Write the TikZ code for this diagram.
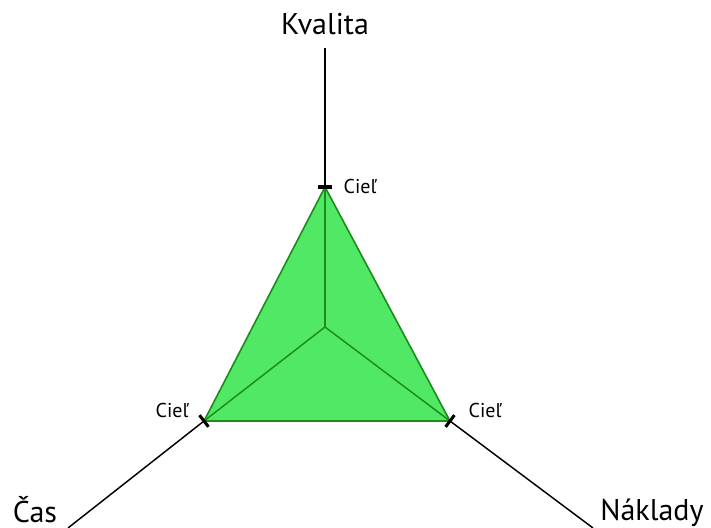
\documentclass[tikz,border=0pt]{standalone}
\usepackage{fontspec}
\setmainfont{PT Sans}
\usetikzlibrary{positioning,calc}
\definecolor{goalgreen}{HTML}{50E864}
\definecolor{goaledge}{HTML}{1C8C1C}
\tikzset{
  axis/.style     = {line width=1.1pt, black},
  goal/.style     = {draw=goaledge, line width=1.2pt, fill=goalgreen, line join=round},
  spoke/.style    = {draw=goaledge, line width=1.1pt},
  goaltick/.style = {line width=2.3pt, black},
  axlbl/.style    = {font=\fontsize{22.5}{26}\selectfont, inner sep=0pt, anchor=base},
  goallbl/.style  = {font=\fontsize{15}{17}\selectfont, inner sep=1pt},
}

\begin{document}
\begin{tikzpicture}[x=0.75pt,y=-0.75pt]
  \useasboundingbox (0,0) rectangle (711,528);
  % centre, goal vertices and axis ends
  \coordinate (O)  at (325,327);
  \coordinate (vq) at (325,187);
  \coordinate (vt) at (204,421);
  \coordinate (vc) at (450,421);
  \coordinate (eq) at (325,48);
  \coordinate (et) at (68,528);
  \coordinate (ec) at (593,528);
  % axes
  \draw[axis] (eq) -- (vq);
  \draw[axis] (et) -- (vt);
  \draw[axis] (ec) -- (vc);
  % goal triangle
  \draw[goal] (vq) -- (vt) -- (vc) -- cycle;
  \foreach \v in {vq,vt,vc}
    \draw[spoke] (O) -- (\v);
  % ticks at the goals
  \foreach \v in {vq,vt,vc}
    \draw[goaltick] ($(\v)!5.5pt!90:(O)$) -- ($(\v)!5.5pt!-90:(O)$);
  % labels
  \node[axlbl] (kval) at (325,35) {Kvalita};
  \node[axlbl] (cas)  at (35,522) {Čas};
  \node[axlbl] (nakl) at (652,520) {Náklady};
  \node[goallbl, anchor=west] (gq) at (342,186) {Cieľ};
  \node[goallbl, anchor=east] (gt) at (190,410) {Cieľ};
  \node[goallbl, anchor=west] (gc) at (467,410) {Cieľ};
\end{tikzpicture}
\end{document}
